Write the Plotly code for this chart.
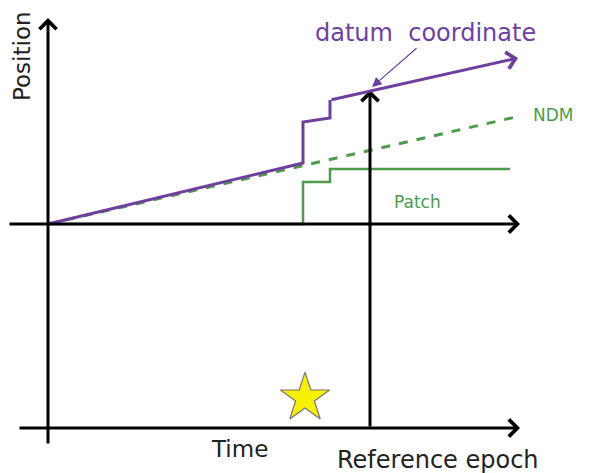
import plotly.graph_objects as go

# Conceptual diagram data (time, position)
purple_t = [0, 255, 255, 282, 282, 470]
purple_p = [0, 61, 102, 106, 124, 166]
ndm_t = [0, 472]
ndm_p = [0, 108]
patch_t = [0, 255, 255, 282, 282, 462]
patch_p = [0, 0, 42, 42, 55, 55]
event_t = [257]
event_p = [-174]
ref_epoch_t = 322
ref_epoch_p = 134
time_axis_p = -204

PURPLE = "#6f3f9f"
GREEN = "#4c9c4c"
FONT = "DejaVu Sans"

fig = go.Figure()

fig.add_trace(go.Scatter(x=ndm_t, y=ndm_p, mode="lines",
                         line=dict(color=GREEN, width=3, dash="dash"), hoverinfo="skip"))
fig.add_trace(go.Scatter(x=patch_t, y=patch_p, mode="lines",
                         line=dict(color=GREEN, width=2.5), hoverinfo="skip"))
fig.add_trace(go.Scatter(x=purple_t[:-1], y=purple_p[:-1], mode="lines",
                         line=dict(color=PURPLE, width=3), hoverinfo="skip"))
fig.add_trace(go.Scatter(x=event_t, y=event_p, mode="markers",
                         marker=dict(symbol="star", size=37, color="#f7f000",
                                     line=dict(color="#777777", width=1.2)),
                         hoverinfo="skip"))

def arrow(x0, y0, x1, y1, color, width=3, head=4, size=1.1):
    fig.add_annotation(x=x1, y=y1, ax=x0, ay=y0, xref="x", yref="y",
                       axref="x", ayref="y", text="", showarrow=True,
                       arrowhead=head, arrowsize=size, arrowwidth=width,
                       arrowcolor=color)

# axes
arrow(0, -221, 0, 206, "black")
arrow(-40, 0, 472, 0, "black")
arrow(-30, time_axis_p, 472, time_axis_p, "black")
# reference epoch
arrow(ref_epoch_t, time_axis_p, ref_epoch_t, ref_epoch_p, "black")
# purple final segment with arrow
arrow(purple_t[-2], purple_p[-2], purple_t[-1], purple_p[-1], PURPLE)
# datum coordinate pointer
arrow(370, 177, 324, 137, PURPLE, width=1.2, head=2, size=1.6)

def label(x, y, text, color, size, angle=0):
    fig.add_annotation(x=x, y=y, xref="x", yref="y", text=text, showarrow=False,
                       font=dict(family=FONT, size=size, color=color), textangle=angle)

label(377, 191, "datum&nbsp;&nbsp;coordinate", PURPLE, 24)
label(505, 109, "NDM", GREEN, 17)
label(369, 22, "Patch", GREEN, 17)
label(-26, 168, "Position", "#222222", 23, angle=-90)
label(191, -225, "Time", "#222222", 23)
label(390, -236, "Reference epoch", "#222222", 24)

fig.update_layout(
    width=596, height=473,
    margin=dict(l=0, r=0, t=0, b=0),
    paper_bgcolor="white", plot_bgcolor="white",
    showlegend=False,
    xaxis=dict(range=[-48, 548], visible=False, fixedrange=True),
    yaxis=dict(range=[-249, 224], visible=False, fixedrange=True),
)

fig.write_html("out.html", config={"displayModeBar": False},
               post_script="document.body.style.margin='0';document.body.style.overflow='hidden';")
